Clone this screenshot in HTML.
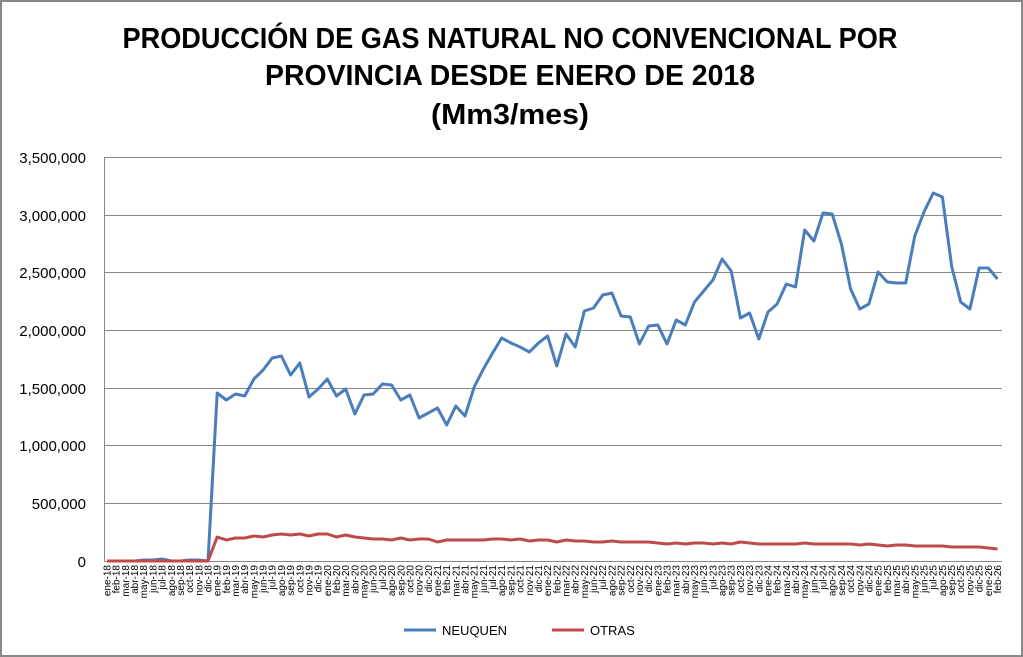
<!DOCTYPE html><html><head><meta charset="utf-8"><style>body{margin:0;background:#fff}svg{display:block}</style></head><body>
<svg width="1023" height="657" xmlns="http://www.w3.org/2000/svg" font-family="Liberation Sans, sans-serif">
<rect x="1" y="1" width="1021" height="655" fill="#fff" stroke="#888" stroke-width="2"/>
<g font-weight="bold" font-size="29" text-anchor="middle" fill="#000">
<text x="510" y="48" textLength="775" lengthAdjust="spacingAndGlyphs">PRODUCCIÓN DE GAS NATURAL NO CONVENCIONAL POR</text>
<text x="510" y="85" textLength="490" lengthAdjust="spacingAndGlyphs">PROVINCIA DESDE ENERO DE 2018</text>
<text x="510" y="124" textLength="158" lengthAdjust="spacingAndGlyphs">(Mm3/mes)</text>
</g>
<g stroke="#888" stroke-width="1">
<line x1="104" y1="157.5" x2="1002" y2="157.5"/><line x1="104" y1="215.5" x2="1002" y2="215.5"/><line x1="104" y1="272.5" x2="1002" y2="272.5"/><line x1="104" y1="330.5" x2="1002" y2="330.5"/><line x1="104" y1="388.5" x2="1002" y2="388.5"/><line x1="104" y1="445.5" x2="1002" y2="445.5"/><line x1="104" y1="503.5" x2="1002" y2="503.5"/><line x1="104" y1="561.5" x2="1002" y2="561.5"/>
<line x1="104.5" y1="157" x2="104.5" y2="561"/>
</g>
<g font-size="15" text-anchor="end" fill="#000">
<text x="86" y="163">3,500,000</text><text x="86" y="221">3,000,000</text><text x="86" y="278">2,500,000</text><text x="86" y="336">2,000,000</text><text x="86" y="394">1,500,000</text><text x="86" y="451">1,000,000</text><text x="86" y="509">500,000</text><text x="86" y="567">0</text>
</g>
<g id="xl" font-size="10" text-anchor="end" fill="#000"></g>
<polyline id="ne" fill="none" stroke="#4a7ebb" stroke-width="3" stroke-linejoin="round"/>
<polyline id="ot" fill="none" stroke="#be4b48" stroke-width="3" stroke-linejoin="round"/>
<line x1="404" y1="630" x2="436" y2="630" stroke="#4a7ebb" stroke-width="3"/>
<text x="442" y="635" font-size="13">NEUQUEN</text>
<line x1="552" y1="630" x2="584" y2="630" stroke="#be4b48" stroke-width="3"/>
<text x="590" y="635" font-size="13">OTRAS</text>
</svg>
<script>
var ne=[561,561,561,561,560,560,559,561,561,560,560,561,393,400,394,396,379,370,358,356,375,363,397,389,379,396,389,414,395,394,384,385,400,395,418,413,408,425,406,416,387,369,353,338,343,347,352,343,336,366,334,347,311,308,295,293,316,317,344,326,325,344,320,325,302,291,280,259,271,318,313,339,312,304,284,287,230,241,213,214,244,289,309,304,272,282,283,283,236,212,193,197,266,302,309,268,268,279];
var ot=[561,561,561,561,561,561,561,561,561,561,561,561,537,540,538,538,536,537,535,534,535,534,536,534,534,537,535,537,538,539,539,540,538,540,539,539,542,540,540,540,540,540,539,539,540,539,541,540,540,542,540,541,541,542,542,541,542,542,542,542,543,544,543,544,543,543,544,543,544,542,543,544,544,544,544,544,543,544,544,544,544,544,545,544,545,546,545,545,546,546,546,546,547,547,547,547,548,549];
var m=['ene','feb','mar','abr','may','jun','jul','ago','sep','oct','nov','dic'];
var a=[],b=[],g=document.getElementById('xl'),h='';
for(var i=0;i<98;i++){var x=107+i*9.18;a.push(x.toFixed(1)+','+ne[i]);b.push(x.toFixed(1)+','+ot[i]);
var lab=m[i%12]+'-'+(18+Math.floor(i/12));h+='<text transform="translate('+(x+3.5).toFixed(1)+',565) rotate(-90)">'+lab+'</text>';}
document.getElementById('ne').setAttribute('points',a.join(' '));
document.getElementById('ot').setAttribute('points',b.join(' '));
g.innerHTML=h;
</script>
</body></html>
